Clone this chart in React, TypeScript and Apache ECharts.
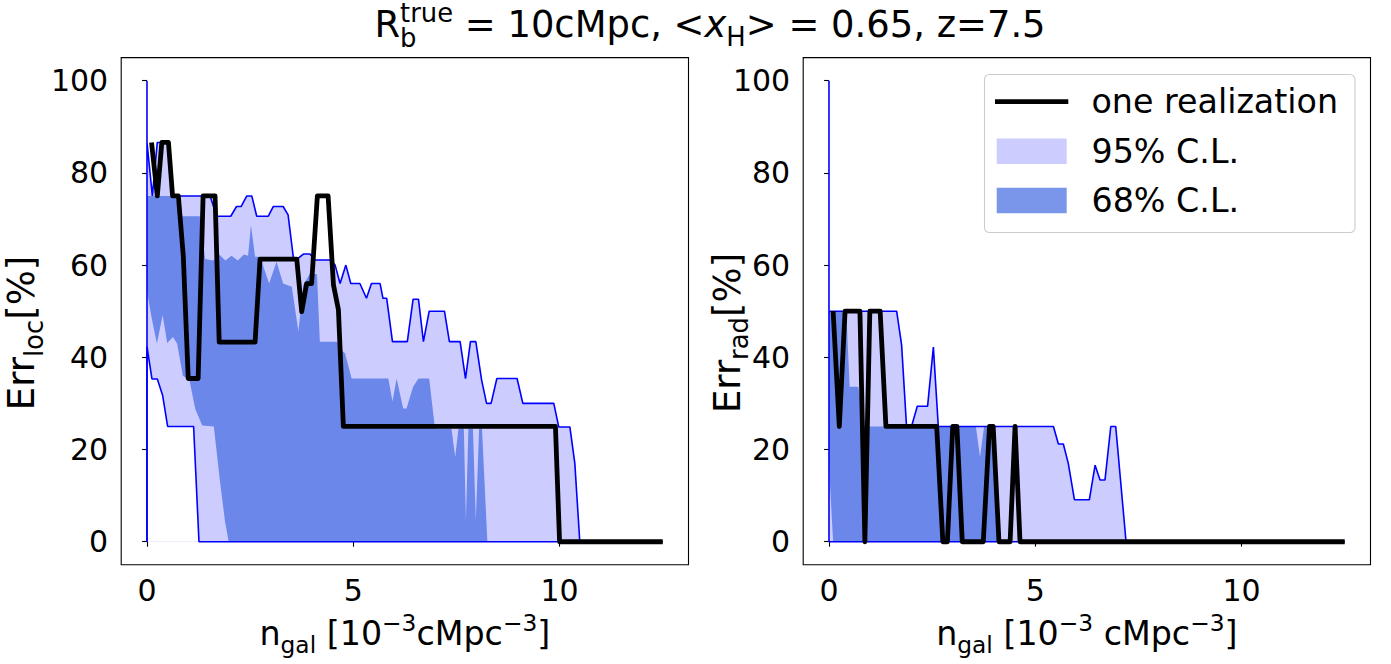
import React, { useEffect, useRef } from 'react';
import * as echarts from 'echarts';

// ---------- data ----------
// Left panel: localisation error [%] vs n_gal
const locHi95: [number, number][] = [
  [0, 0], [0, 100], [0, 86.6], [0.13, 75], [0.25, 86.6], [0.52, 86.6], [0.64, 75], [1.53, 75], [1.69, 70.6],
  [2.03, 70.6], [2.17, 72.7], [2.28, 72.7], [2.42, 75], [2.54, 75], [2.66, 70.6], [2.94, 70.6], [3.06, 72.7],
  [3.3, 72.7], [3.42, 70.9], [3.55, 61.5], [3.67, 61.5], [3.79, 62.4], [3.95, 62.4], [4.07, 61.1], [4.44, 61.1],
  [4.56, 60], [4.68, 56], [4.82, 60], [4.94, 56], [5.16, 56], [5.32, 52.8], [5.44, 56], [5.65, 56], [5.72, 52.8],
  [5.81, 52.8], [5.95, 43.4], [6.31, 43.4], [6.45, 52.6], [6.58, 52.6], [6.7, 43.4], [6.84, 50], [7.21, 50],
  [7.33, 43.4], [7.59, 43.4], [7.72, 35.4], [7.84, 43.4], [7.97, 43.4], [8.11, 35.1], [8.23, 30], [8.34, 30],
  [8.48, 35.4], [8.97, 35.4], [9.11, 30], [9.86, 30], [9.98, 24.9], [10.25, 24.9], [10.37, 17], [10.49, 0], [12.5, 0],
];
const locLo95: [number, number][] = [
  [0, 0], [0, 42.3], [0.12, 35.3], [0.25, 35.3], [0.38, 31.7], [0.5, 25], [1.13, 25], [1.26, 0], [12.5, 0],
];
const locHi68: [number, number][] = [
  [0, 75], [0.68, 75], [0.82, 70.6], [1.28, 70.6], [1.41, 61.3], [1.6, 61.0], [1.75, 62.3], [1.9, 61.0], [2.05, 62.0],
  [2.2, 61.0], [2.35, 62.3], [2.45, 62.0], [2.52, 68.7], [2.62, 61.8], [2.74, 61.8], [2.96, 56], [3.14, 60.7],
  [3.3, 56], [3.51, 55.3], [3.67, 45.6], [3.79, 55.7], [3.95, 58.2], [4.12, 58], [4.19, 43.4], [4.6, 43.4],
  [4.72, 41.5], [4.8, 40.9], [4.96, 35.4], [5.85, 35.4], [5.95, 30.4], [6.05, 35.4], [6.21, 28.9], [6.29, 28.9],
  [6.45, 33.6], [6.58, 35.4], [6.84, 35.4], [6.98, 24.5], [7.38, 24.5], [7.47, 18.4], [7.55, 24.5], [7.68, 24.5],
  [7.73, 4.7], [7.79, 24.5], [7.9, 24.5], [7.97, 4.7], [8.05, 24.5], [8.12, 24.5], [8.25, 0], [12.5, 0],
];
const locLo68: [number, number][] = [
  [0, 54.5], [0.11, 48.7], [0.24, 43], [0.38, 49.1], [0.49, 43.1], [0.63, 44.4], [0.73, 43], [0.87, 36],
  [1.03, 35], [1.17, 28.8], [1.34, 25.2], [1.62, 25], [1.77, 13], [1.89, 4.5], [1.98, 0], [12.5, 0],
];
const locReal: [number, number][] = [
  [0.11, 86.6], [0.25, 75], [0.36, 86.6], [0.52, 86.6], [0.62, 75], [0.76, 75], [0.88, 62], [1.0, 35.4],
  [1.24, 35.4], [1.36, 75], [1.65, 75], [1.75, 43.3], [2.62, 43.3], [2.74, 61.3], [3.63, 61.3], [3.75, 49.9],
  [3.87, 56], [3.99, 56], [4.13, 75], [4.39, 75], [4.52, 55.7], [4.64, 50.3], [4.76, 25], [9.9, 25], [10.0, 0],
  [12.5, 0],
];

// Right panel: radius error [%] vs n_gal
const radHi95: [number, number][] = [
  [0, 0], [0, 100], [0, 50], [1.64, 50], [1.76, 42.7], [1.88, 25], [2.0, 25], [2.14, 29.4], [2.39, 29.4],
  [2.53, 42.2], [2.65, 25], [5.44, 25], [5.56, 21.2], [5.68, 21.2], [5.8, 17], [5.95, 9.1], [6.31, 9.1],
  [6.45, 16.6], [6.57, 13.4], [6.69, 13.4], [6.83, 25], [6.95, 25], [7.2, 0], [12.5, 0],
];
const radLo95: [number, number][] = [[0, 0], [12.5, 0]];
const radHi68: [number, number][] = [
  [0, 50], [0.42, 50], [0.5, 33.6], [0.71, 33.6], [0.87, 25], [3.56, 25], [3.66, 18.4], [3.76, 25], [4.02, 25],
  [4.12, 0], [12.5, 0],
];
const radLo68: [number, number][] = [[0, 16.5], [0.1, 0], [12.5, 0]];
const radReal: [number, number][] = [
  [0.1, 50], [0.25, 25], [0.39, 50], [0.75, 50], [0.87, 0], [0.99, 50], [1.24, 50], [1.38, 25], [2.61, 25],
  [2.76, 0], [2.87, 0], [3.0, 25], [3.1, 25], [3.23, 0], [3.74, 0], [3.89, 25], [3.98, 25], [4.12, 0],
  [4.39, 0], [4.51, 25], [4.63, 0], [12.5, 0],
];

const xTicks = [0, 5, 10];
const yTicks = [0, 20, 40, 60, 80, 100];
const legendLabels = ['one realization', '95% C.L.', '68% C.L.'];

// ---------- style ----------
const LIGHT = '#ccccff';
const DARK = '#6b87ea';
const DARK_LEGEND = '#7a96ea';
const BLUE = '#0000ff';
const FONT = 'DejaVu Sans';
const TICK_FS = 30;
const LABEL_FS = 33.3;
const YLABEL_FS = 37;
const TITLE_FS = 36.9;
const LEGEND_FS = 33.3;

// a fragment: one run of text on the baseline (dy = raise), or a stacked block
// of lines (first line's baseline raised by dy, following lines L px lower)
type Frag = { t?: string; s: number; dy?: number; it?: boolean; lines?: string[]; L?: number };

let measureCtx: CanvasRenderingContext2D | null = null;
function textWidth(t: string, s: number, it?: boolean): number {
  if (!measureCtx) measureCtx = document.createElement('canvas').getContext('2d');
  if (!measureCtx) return t.length * s * 0.6;
  measureCtx.font = `${it ? 'italic ' : ''}${s}px "${FONT}"`;
  return measureCtx.measureText(t).width;
}

// lay out text fragments along a common baseline (group origin = baseline point)
function mathText(frags: Frag[], x: number, y: number, rotation = 0, anchor: 'center' | 'left' = 'center') {
  const parts: { t: string; s: number; cy: number; it: boolean; lh: number; x: number }[] = [];
  let cx = 0;
  for (const f of frags) {
    const dy = f.dy ?? 0;
    if (f.lines) {
      const L = f.L ?? f.s;
      const n = f.lines.length;
      const w = Math.max(...f.lines.map((l) => textWidth(l, f.s, f.it)));
      parts.push({
        t: f.lines.join('\n'),
        s: f.s,
        cy: -dy - 0.346 * f.s + (L * (n - 1)) / 2,
        it: !!f.it,
        lh: L,
        x: cx,
      });
      cx += w;
    } else {
      const w = textWidth(f.t as string, f.s, f.it);
      parts.push({ t: f.t as string, s: f.s, cy: -dy - 0.346 * f.s, it: !!f.it, lh: f.s, x: cx });
      cx += w;
    }
  }
  const off = anchor === 'center' ? -cx / 2 : 0;
  return {
    type: 'group',
    x,
    y,
    rotation,
    silent: true,
    z: 100,
    children: parts.map((p) => ({
      type: 'text',
      x: p.x + off,
      y: p.cy,
      z: 100,
      style: {
        text: p.t,
        fontSize: p.s,
        lineHeight: p.lh,
        fontFamily: FONT,
        fontStyle: p.it ? 'italic' : 'normal',
        fill: '#000',
        align: 'left',
        verticalAlign: 'middle',
      },
    })),
  };
}

const GRID_TOP = 57.6;
const GRID_H = 507.2;
const GRID_W = 567.3;
const GRID_LEFTS = [121.2, 803.2];

function App() {
  const ref = useRef<HTMLDivElement>(null);
  useEffect(() => {
    if (!ref.current) return;
    const chart = echarts.init(ref.current, undefined, { renderer: 'svg' });

    const xAxisFor = (gi: number) => ({
      type: 'value',
      gridIndex: gi,
      min: -0.625,
      max: 13.125,
      axisLine: { show: false },
      splitLine: { show: false },
      axisTick: { show: true, customValues: xTicks, length: 4.9, lineStyle: { color: '#000', width: 1.1 } },
      axisLabel: {
        customValues: xTicks,
        fontSize: TICK_FS,
        fontFamily: FONT,
        color: '#000',
        margin: 11,
        formatter: (v: number) => String(v),
      },
    });
    const yAxisFor = (gi: number) => ({
      type: 'value',
      gridIndex: gi,
      min: -5,
      max: 105,
      axisLine: { show: false },
      splitLine: { show: false },
      axisTick: { show: true, customValues: yTicks, length: 4.9, lineStyle: { color: '#000', width: 1.1 } },
      axisLabel: {
        customValues: yTicks,
        fontSize: TICK_FS,
        fontFamily: FONT,
        color: '#000',
        margin: 13,
        formatter: (v: number) => String(v),
      },
    });

    const panelSeries = (
      gi: number,
      hi95: [number, number][],
      lo95: [number, number][],
      hi68: [number, number][],
      lo68: [number, number][],
      real: [number, number][],
    ) => {
      const base = { type: 'line', xAxisIndex: gi, yAxisIndex: gi, symbol: 'none', showSymbol: false, silent: true };
      const noLine = { width: 0, opacity: 0 };
      return [
        { ...base, data: hi95, lineStyle: noLine, areaStyle: { color: LIGHT, opacity: 1 }, z: 1 },
        { ...base, data: hi68, lineStyle: noLine, areaStyle: { color: DARK, opacity: 1 }, z: 2 },
        { ...base, data: lo68, lineStyle: noLine, areaStyle: { color: LIGHT, opacity: 1 }, z: 3 },
        { ...base, data: lo95, lineStyle: noLine, areaStyle: { color: '#ffffff', opacity: 1 }, z: 4 },
        { ...base, data: hi95, lineStyle: { color: BLUE, width: 1.6 }, z: 5 },
        { ...base, data: lo95, lineStyle: { color: BLUE, width: 1.6 }, z: 5 },
        { ...base, data: real, lineStyle: { color: '#000', width: 4.8, join: 'round', cap: 'butt' }, z: 6 },
      ];
    };

    const S = LABEL_FS;
    const s = 0.7 * S;
    const Y = YLABEL_FS;
    const ys = 0.7 * Y;
    const T = TITLE_FS;
    const ts = 0.7 * T;

    const graphic: any[] = [
      // title
      mathText(
        [
          { t: 'R', s: T },
          { lines: ['true', 'b'], s: ts, dy: 0.43 * T, L: 0.69 * T },
          { t: ' = 10cMpc, <', s: T },
          { t: 'x', s: T, it: true },
          { t: 'H', s: ts, dy: -0.22 * T },
          { t: '> = 0.65, z=7.5', s: T },
        ],
        710,
        37.5,
      ),
      // x labels
      mathText(
        [
          { t: 'n', s: S },
          { t: 'gal', s, dy: -0.22 * S },
          { t: ' [10', s: S },
          { t: '\u22123', s, dy: 0.42 * S },
          { t: 'cMpc', s: S },
          { t: '\u22123', s, dy: 0.42 * S },
          { t: ']', s: S },
        ],
        GRID_LEFTS[0] + GRID_W / 2,
        645,
      ),
      mathText(
        [
          { t: 'n', s: S },
          { t: 'gal', s, dy: -0.22 * S },
          { t: ' [10', s: S },
          { t: '\u22123', s, dy: 0.42 * S },
          { t: ' cMpc', s: S },
          { t: '\u22123', s, dy: 0.42 * S },
          { t: ']', s: S },
        ],
        GRID_LEFTS[1] + GRID_W / 2,
        645,
      ),
      // y labels
      mathText(
        [{ t: 'Err', s: Y }, { t: 'loc', s: ys, dy: -0.22 * Y }, { t: '[%]', s: Y }],
        34.5,
        333,
        Math.PI / 2,
      ),
      mathText(
        [{ t: 'Err', s: Y }, { t: 'rad', s: ys, dy: -0.22 * Y }, { t: '[%]', s: Y }],
        740,
        333,
        Math.PI / 2,
      ),
      // legend
      {
        type: 'rect',
        z: 90,
        silent: true,
        shape: { x: 984.5, y: 74.5, width: 370.5, height: 158, r: 5 },
        style: { fill: 'rgba(255,255,255,0.8)', stroke: '#cccccc', lineWidth: 1.1 },
      },
      {
        type: 'line',
        z: 95,
        silent: true,
        shape: { x1: 995, y1: 101.7, x2: 1068.3, y2: 101.7 },
        style: { stroke: '#000', lineWidth: 4.8 },
      },
      {
        type: 'rect',
        z: 95,
        silent: true,
        shape: { x: 996.7, y: 138.5, width: 70, height: 25.5 },
        style: { fill: LIGHT },
      },
      {
        type: 'rect',
        z: 95,
        silent: true,
        shape: { x: 996.7, y: 187.7, width: 70, height: 25.5 },
        style: { fill: DARK_LEGEND },
      },
      mathText([{ t: legendLabels[0], s: LEGEND_FS }], 1091.5, 113.3, 0, 'left'),
      mathText([{ t: legendLabels[1], s: LEGEND_FS }], 1091.5, 162.7, 0, 'left'),
      mathText([{ t: legendLabels[2], s: LEGEND_FS }], 1091.5, 211.8, 0, 'left'),
    ];

    chart.setOption({
      animation: false,
      backgroundColor: '#ffffff',
      grid: GRID_LEFTS.map((left) => ({
        left,
        top: GRID_TOP,
        width: GRID_W,
        height: GRID_H,
        show: true,
        borderColor: '#000',
        borderWidth: 1.1,
        backgroundColor: 'transparent',
        containLabel: false,
      })),
      xAxis: [xAxisFor(0), xAxisFor(1)],
      yAxis: [yAxisFor(0), yAxisFor(1)],
      series: [
        ...panelSeries(0, locHi95, locLo95, locHi68, locLo68, locReal),
        ...panelSeries(1, radHi95, radLo95, radHi68, radLo68, radReal),
      ],
      graphic,
    } as any);

    return () => chart.dispose();
  }, []);

  return (
    <div
      ref={ref}
      style={{ position: 'absolute', left: 0, top: 0, width: 1391, height: 664 }}
    />
  );
}

export default App;
